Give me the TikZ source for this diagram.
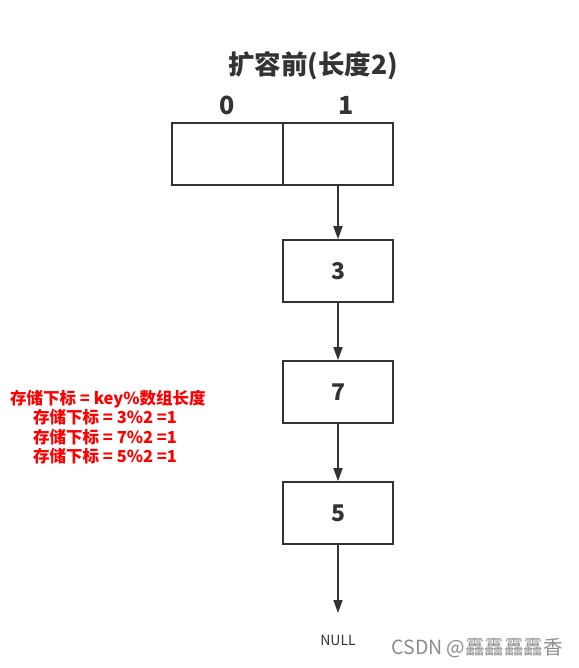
\documentclass[tikz,border=0pt]{standalone}
\usepackage{fontspec}
\setmainfont{Noto Sans CJK SC}
\usetikzlibrary{arrows.meta,positioning}

\begin{document}
\begin{tikzpicture}[
    x=1pt, y=-1pt,
    cellbox/.style={draw=black!80, line width=1.6pt, minimum height=62pt, inner sep=0pt, font=\fontsize{23}{26}\selectfont\bfseries, text=black!80},
    link/.style={draw=black!80, line width=1.6pt, -{Triangle[length=13pt, width=9pt]}},
    hint/.style={red, font=\fontsize{16.5}{19.5}\selectfont\bfseries, align=left, inner sep=0pt}
]
\useasboundingbox (0, 0) rectangle (578, 668);

% Title and indices
\node[font=\fontsize{26.5}{30}\selectfont\bfseries, text=black!80] (title) at (313, 66) {扩容前(长度2)};
\node[font=\fontsize{25}{28}\selectfont\bfseries, text=black!80] (idx0) at (227, 105) {0};
\node[font=\fontsize{25}{28}\selectfont\bfseries, text=black!80] (idx1) at (346, 105) {1};

% Array of length 2
\node[cellbox, minimum width=111pt] (cell0) at (227.5, 154) {};
\node[cellbox, minimum width=110pt] (cell1) at (338, 154) {};

% Linked list in slot 1
\node[cellbox, minimum width=110pt] (n3) at (338, 271) {3};
\node[cellbox, minimum width=110pt] (n7) at (338, 392) {7};
\node[cellbox, minimum width=110pt] (n5) at (338, 513) {5};
\coordinate (end) at (338, 613);
\node[font=\fontsize{14}{16}\selectfont, text=black!80] (null) at (338, 640) {NULL};

\draw[link] (cell1) -- (n3);
\draw[link] (n3) -- (n7);
\draw[link] (n7) -- (n5);
\draw[link] (n5) -- (end);

% Index formula
\node[hint, anchor=north west] (rule) at (10, 390) {存储下标 = key\%数组长度};
\node[hint, anchor=north west] (calc) at (33, 409.5) {存储下标 = 3\%2 =1\\存储下标 = 7\%2 =1\\存储下标 = 5\%2 =1};

% Watermark
\node[font=\fontsize{19.5}{22}\selectfont, text=black!45, anchor=west] (mark) at (388, 648) {CSDN @靐靐靐靐香};

\end{tikzpicture}
\end{document}
